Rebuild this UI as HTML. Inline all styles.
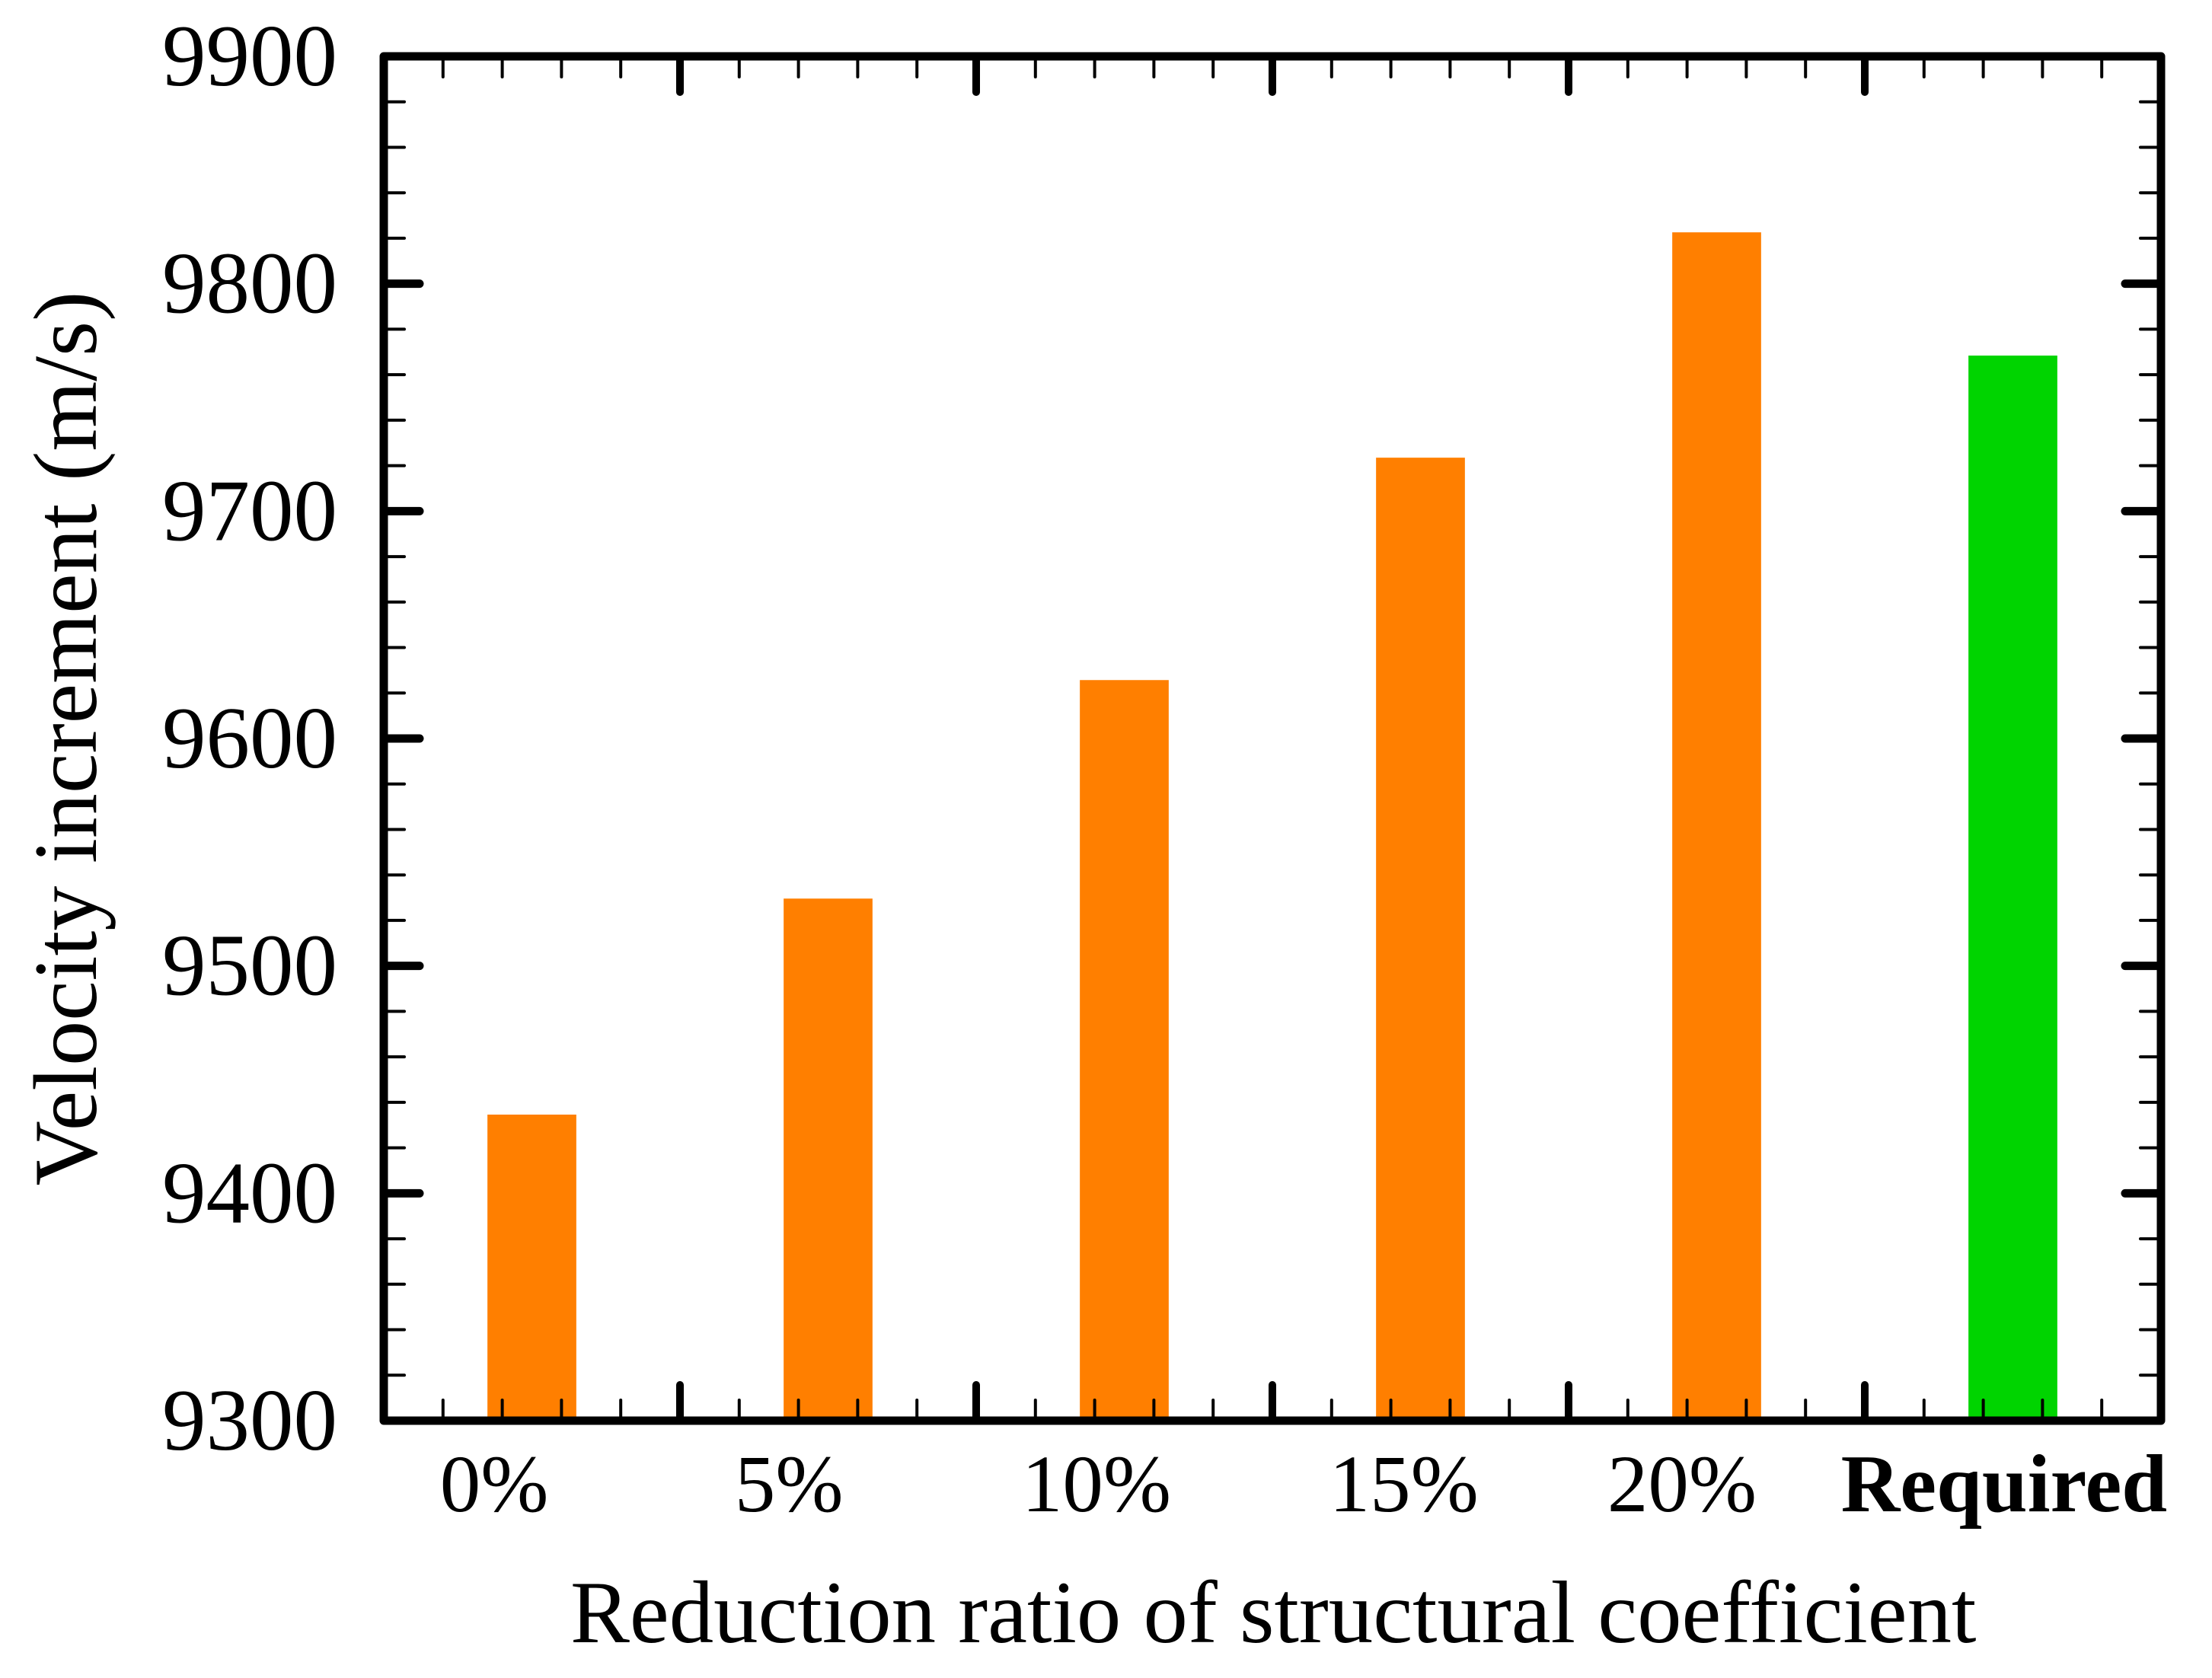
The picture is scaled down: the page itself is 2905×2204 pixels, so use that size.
<!DOCTYPE html>
<html lang="en">
<head>
<meta charset="utf-8">
<title>Velocity increment vs reduction ratio of structural coefficient</title>
<style>
html,body{margin:0;padding:0;background:#fff;}
svg{display:block;}
text{font-family:"Liberation Serif",serif;fill:#000;font-variant-ligatures:none;}
</style>
</head>
<body>
<svg id="chart" xmlns="http://www.w3.org/2000/svg" width="2905" height="2204" viewBox="0 0 2905 2204">
  <rect x="0" y="0" width="2905" height="2204" fill="#fff"/>
  <g id="bars"></g>
  <g id="ticks" stroke="#000" stroke-linecap="round"></g>
  <rect x="504" y="74" width="2334" height="1792" fill="none" stroke="#000" stroke-width="11" stroke-linejoin="round"/>
  <g id="ytick-labels"></g>
  <g id="xtick-labels"></g>
  <text x="749" y="2157" font-size="116.8">Reduction ratio of structural coefficient</text>
  <text x="0" y="0" font-size="118.2" text-anchor="middle" transform="translate(126 970) rotate(-90)">Velocity increment (m/s)</text>
</svg>
<script>
const categories = ['0%', '5%', '10%', '15%', '20%', 'Required'];
const velocityValues = [9434.6, 9529.6, 9625.7, 9723.5, 9822.6, 9768.4];
const yTickValues = [9300, 9400, 9500, 9600, 9700, 9800, 9900];

const NS = 'http://www.w3.org/2000/svg';
const plot = { left: 504, right: 2838, top: 74, bottom: 1866 };
const yMin = 9300;
const yMax = 9900;
const xMax = 6;
const barWidthUnits = 0.3;
const xLabelShiftUnits = [-0.127, -0.132, -0.094, -0.056, -0.117, -0.03];

function xScale(u) {
  return plot.left + (u / xMax) * (plot.right - plot.left);
}
function yScale(v) {
  return plot.bottom - ((v - yMin) / (yMax - yMin)) * (plot.bottom - plot.top);
}
function make(tag, parentId) {
  const el = document.createElementNS(NS, tag);
  document.getElementById(parentId).appendChild(el);
  return el;
}
function setLine(el, x1, y1, x2, y2, w) {
  el.setAttribute('x1', x1);
  el.setAttribute('y1', y1);
  el.setAttribute('x2', x2);
  el.setAttribute('y2', y2);
  el.setAttribute('stroke-width', w);
}

/* bars */
categories.forEach(function (cat, i) {
  const bar = make('rect', 'bars');
  
  
  bar.setAttribute('x', xScale(i + 0.5 - barWidthUnits / 2));
  bar.setAttribute('y', yScale(velocityValues[i]));
  bar.setAttribute('width', xScale(barWidthUnits) - xScale(0));
  bar.setAttribute('height', yScale(yMin) - yScale(velocityValues[i]));
  bar.setAttribute('fill', cat === 'Required' ? '#00d400' : '#ff7f00');
});

/* x ticks: major every 1 unit, four minor between each */
for (let n = 1; n < xMax * 5; n++) {
  const major = n % 5 === 0;
  const len = major ? 47 : 27;
  const w = major ? 10 : 4;
  const x = xScale(n / 5);
  const bottomTick = make('line', 'ticks');
  
  
  setLine(bottomTick, x, plot.bottom, x, plot.bottom - len, w);
  const topTick = make('line', 'ticks');
  
  
  setLine(topTick, x, plot.top, x, plot.top + len, w);
}

/* y ticks: major every 100, minor every 20 */
for (let v = yMin + 20; v < yMax; v += 20) {
  const major = (v - yMin) % 100 === 0;
  const len = major ? 47 : 27;
  const w = major ? 11 : 4;
  const y = yScale(v);
  const leftTick = make('line', 'ticks');
  
  
  setLine(leftTick, plot.left, y, plot.left + len, y, w);
  const rightTick = make('line', 'ticks');
  
  
  setLine(rightTick, plot.right, y, plot.right - len, y, w);
}

/* y tick labels */
yTickValues.forEach(function (v) {
  const t = make('text', 'ytick-labels');
  
  
  t.setAttribute('x', 443);
  t.setAttribute('y', yScale(v) + 38);
  t.setAttribute('text-anchor', 'end');
  t.setAttribute('font-size', 115);
  t.textContent = String(v);
});

/* x tick labels */
categories.forEach(function (cat, i) {
  const t = make('text', 'xtick-labels');
  
  
  t.setAttribute('x', xScale(i + 0.5 + xLabelShiftUnits[i]));
  t.setAttribute('y', 1985);
  t.setAttribute('text-anchor', 'middle');
  t.setAttribute('font-size', cat === 'Required' ? 107.6 : 107);
  if (cat === 'Required') {
    t.setAttribute('font-weight', 'bold');
  }
  t.textContent = cat;
});
</script>
</body>
</html>
